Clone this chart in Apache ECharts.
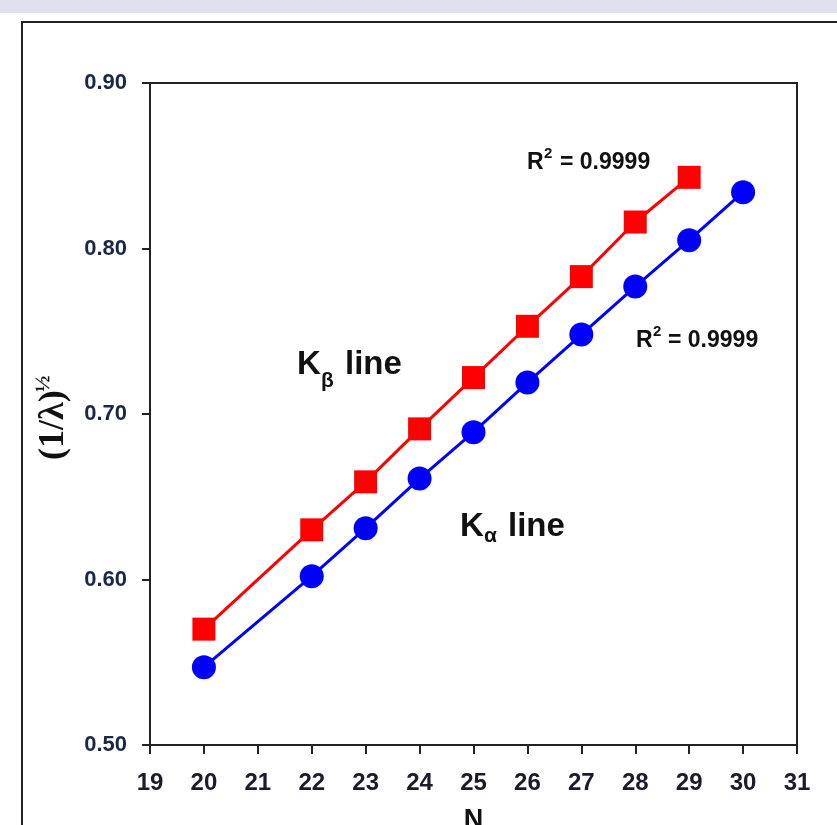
<!DOCTYPE html>
<html>
<head>
<meta charset="utf-8">
<script src="https://cdn.jsdelivr.net/npm/echarts@6/dist/echarts.min.js"></script>
<style>
  html, body { margin: 0; padding: 0; background: #fff; }
  #chart { width: 837px; height: 825px; }
</style>
</head>
<body>
<div id="chart"></div>
<script>
// atomic number N and (1/lambda)^1/2 values
const nAlpha = [20, 22, 23, 24, 25, 26, 27, 28, 29, 30];
const kAlpha = [0.547, 0.602, 0.631, 0.661, 0.689, 0.719, 0.748, 0.777, 0.805, 0.834];
const nBeta = [20, 22, 23, 24, 25, 26, 27, 28, 29];
const kBeta = [0.570, 0.630, 0.659, 0.691, 0.722, 0.753, 0.783, 0.816, 0.843];
const r2Label = "= 0.9999";

const sans = '"Liberation Sans", Arial, sans-serif';

const chart = echarts.init(document.getElementById("chart"));

const pairs = (xs, ys) => xs.map((x, i) => [x, ys[i]]);

// small helper for the text annotations
const txt = (x, y, text, size) => ({
  type: "text",
  x: x,
  y: y,
  style: {
    text: text,
    fontSize: size,
    fontWeight: "bold",
    fontFamily: sans,
    fill: "#111",
    textVerticalAlign: "middle"
  }
});

const option = {
  backgroundColor: "#fff",
  animation: false,
  grid: {
    left: 150,
    right: 40,
    top: 83,
    bottom: 80,
    outerBoundsMode: "none",
    containLabel: false,
    show: true,
    borderColor: "#222",
    borderWidth: 2
  },
  xAxis: {
    type: "value",
    min: 19,
    max: 31,
    interval: 1,
    splitLine: { show: false },
    axisLine: { lineStyle: { color: "#222", width: 2 } },
    axisTick: { inside: false, length: 9, lineStyle: { color: "#222", width: 2 } },
    axisLabel: {
      margin: 26,
      fontSize: 24,
      fontWeight: "bold",
      fontFamily: sans,
      color: "#1b1b2b"
    },
    name: "N",
    nameLocation: "middle",
    nameGap: 62,
    nameTextStyle: {
      fontSize: 27,
      fontWeight: "bold",
      fontFamily: sans,
      color: "#111"
    }
  },
  yAxis: {
    type: "value",
    min: 0.5,
    max: 0.9,
    interval: 0.1,
    splitLine: { show: false },
    axisLine: { lineStyle: { color: "#222", width: 2 } },
    axisTick: { inside: false, length: 8, lineStyle: { color: "#222", width: 2 } },
    axisLabel: {
      margin: 23,
      fontSize: 22,
      fontWeight: "bold",
      fontFamily: sans,
      color: "#1b2747",
      formatter: v => v.toFixed(2)
    }
  },
  series: [
    {
      name: "K beta",
      type: "line",
      data: pairs(nBeta, kBeta),
      symbol: "rect",
      symbolSize: 23,
      itemStyle: { color: "#ff0000" },
      lineStyle: { color: "#ff0000", width: 3 },
      z: 3
    },
    {
      name: "K alpha",
      type: "line",
      data: pairs(nAlpha, kAlpha),
      symbol: "circle",
      symbolSize: 24,
      itemStyle: { color: "#0000ff" },
      lineStyle: { color: "#0000ff", width: 3 },
      z: 3
    }
  ],
  graphic: [
    // band at the top of the screenshot and the outer frame
    { type: "rect", shape: { x: 0, y: 0, width: 837, height: 13 }, style: { fill: "#e0dfee" }, z: -10 },
    { type: "rect", shape: { x: 22, y: 22, width: 900, height: 900 }, style: { fill: "none", stroke: "#222", lineWidth: 2 }, z: -9 },
    // y axis title (1/λ)½ , read bottom to top
    {
      type: "text",
      x: 54,
      y: 460,
      rotation: Math.PI / 2,
      style: {
        text: "(1/λ)",
        fontSize: 36,
        fontWeight: "bold",
        fontFamily: '"Liberation Serif", "Times New Roman", serif',
        fill: "#111",
        textAlign: "left",
        textVerticalAlign: "middle"
      }
    },
    {
      type: "text",
      x: 43,
      y: 392,
      rotation: Math.PI / 2,
      style: {
        text: "½",
        fontSize: 22,
        fontWeight: "bold",
        fontFamily: '"Liberation Serif", "Times New Roman", serif',
        fill: "#111",
        textAlign: "left",
        textVerticalAlign: "middle"
      }
    },
    // Kβ line
    txt(297, 365, "K", 33),
    txt(321, 381, "β", 21),
    txt(345, 365, "line", 33),
    // Kα line
    txt(460, 527, "K", 33),
    txt(484, 536, "α", 21),
    txt(508, 527, "line", 33),
    // R² labels
    txt(527, 163, "R", 23),
    txt(544, 154, "2", 15),
    txt(560, 163, r2Label, 23),
    txt(636, 341, "R", 23),
    txt(653, 332, "2", 15),
    txt(668, 341, r2Label, 23)
  ]
};

chart.setOption(option);
</script>
</body>
</html>
